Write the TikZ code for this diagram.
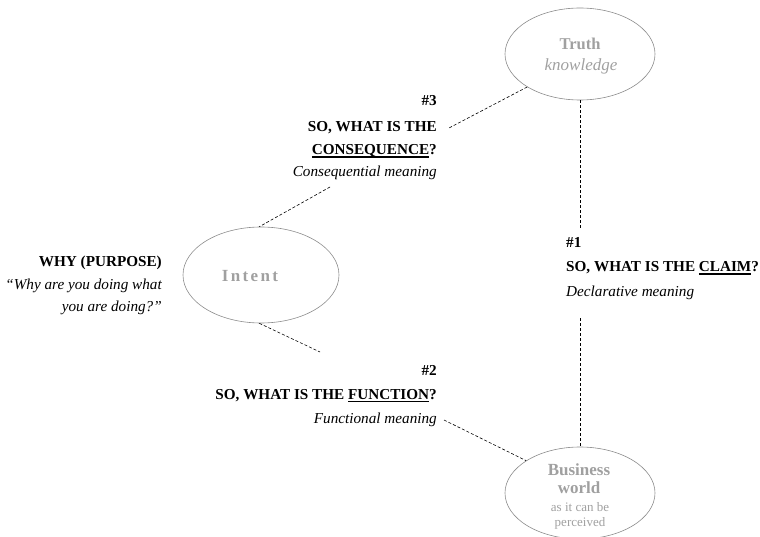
\documentclass[tikz,border=0pt]{standalone}
\usepackage{fontspec}
\setmainfont{Liberation Serif}
\usetikzlibrary{shapes.geometric}
\definecolor{ellgray}{HTML}{8C8C8C}
\definecolor{txtgray}{HTML}{A0A0A0}
\newcommand\myul[1]{{\setbox0\hbox{#1}\rlap{\rule[-2.6pt]{\wd0}{1.1pt}}\box0}}
\tikzset{
  ell/.style={draw=ellgray, line width=0.6pt, ellipse, inner sep=0pt},
  lblr/.style={inner sep=0pt, anchor=base east},
  lbll/.style={inner sep=0pt, anchor=base west},
  bf/.style={font=\fontsize{15.2}{17}\selectfont\bfseries},
  it/.style={font=\fontsize{15.2}{17}\selectfont\itshape},
  gtxt/.style={inner sep=0pt, anchor=base, text=txtgray},
  conn/.style={densely dashed, line width=0.6pt, black}
}
\begin{document}
\begin{tikzpicture}[x=1pt,y=-1pt]
\useasboundingbox (0,0) rectangle (760,537);
% ellipses
\node[ell, minimum width=150pt, minimum height=92pt] (truth) at (580,54) {};
\node[ell, minimum width=156pt, minimum height=96pt] (intent) at (261,275) {};
\node[ell, minimum width=150pt, minimum height=92pt] (business) at (580,493) {};
% ellipse texts
\node[gtxt, font=\fontsize{16.5}{18}\selectfont\bfseries] (truthT) at (580,50) {Truth};
\node[gtxt, font=\fontsize{17}{18}\selectfont\itshape] (truthK) at (581,71) {knowledge};
\node[gtxt, font=\fontsize{17}{18}\selectfont\bfseries\addfontfeature{LetterSpace=14}] (intentT) at (250,281) {Intent};
\node[gtxt, font=\fontsize{17}{18}\selectfont\bfseries] (busB) at (579,475) {Business};
\node[gtxt, font=\fontsize{17}{18}\selectfont\bfseries] (busW) at (579,493) {world};
\node[gtxt, font=\fontsize{13}{14}\selectfont] (busA) at (580,511) {as it can be};
\node[gtxt, font=\fontsize{13}{14}\selectfont] (busP) at (580,526) {perceived};
% #3
\node[lblr, bf] (n3) at (437,106) {\#3};
\node[lblr, bf] (q3a) at (437,132) {SO, WHAT IS THE};
\node[lblr, bf] (q3b) at (437,155) {\myul{CONSEQUENCE}?};
\node[lblr, it] (m3) at (437,177) {Consequential meaning};
% why
\node[lblr, bf] (why) at (162,267) {WHY (PURPOSE)};
\node[lblr, it] (why2) at (162,290) {“Why are you doing what};
\node[lblr, it] (why3) at (162,312) {you are doing?”};
% #1
\node[lbll, bf] (n1) at (566,248) {\#1};
\node[lbll, bf] (q1) at (566,272) {SO, WHAT IS THE \myul{CLAIM}?};
\node[lbll, it] (m1) at (566,296) {Declarative meaning};
% #2
\node[lblr, bf] (n2) at (437,375) {\#2};
\node[lblr, bf] (q2) at (437,399) {SO, WHAT IS THE \myul{FUNCTION}?};
\node[lblr, it] (m2) at (437,423) {Functional meaning};
% connector free ends
\coordinate (c3a) at (449,128);
\coordinate (c3b) at (330,187);
\coordinate (c1a) at (580,228);
\coordinate (c1b) at (580,318);
\coordinate (c2a) at (320,352);
\coordinate (c2b) at (444,420);
% connectors
\draw[conn] (truth.212) -- (c3a);
\draw[conn] (c3b) -- (intent.92);
\draw[conn] (truth.south) -- (c1a);
\draw[conn] (c1b) -- (business.north);
\draw[conn] (intent.268) -- (c2a);
\draw[conn] (c2b) -- (business.149);
\end{tikzpicture}
\end{document}
